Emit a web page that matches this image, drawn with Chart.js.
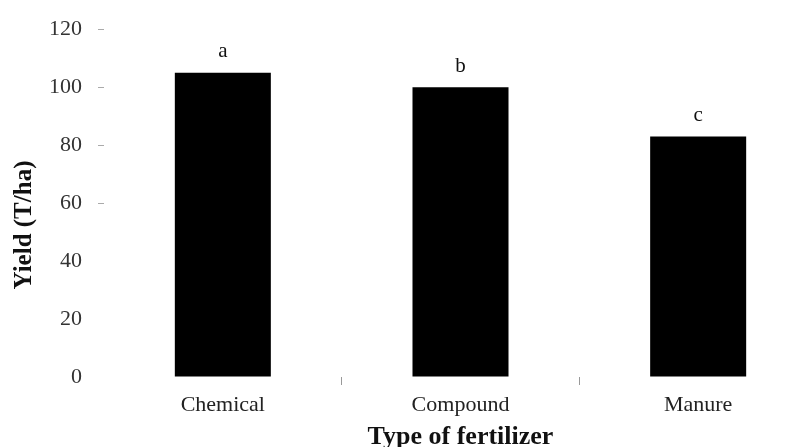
<!DOCTYPE html>
<html>
<head>
<meta charset="utf-8">
<script src="https://cdn.jsdelivr.net/npm/chart.js@4"></script>
<style>
  html, body { margin: 0; padding: 0; background: #fff; overflow: hidden; }
</style>
</head>
<body>
<canvas id="yieldChart" width="817" height="447"></canvas>
<script>
// Chart data
const categories = ['Chemical', 'Compound', 'Manure'];
const yieldValues = [105, 100, 83];
const groupLetters = ['a', 'b', 'c'];
const yMin = 0;
const yMax = 120;
const yStep = 20;

const serif = "'Liberation Serif', 'Times New Roman', serif";

// Draws the significance letters above bars and the y axis title
const annotationPlugin = {
    id: 'annotations',
    afterDatasetsDraw(chart) {
        const ctx = chart.ctx;
        const meta = chart.getDatasetMeta(0);
        ctx.save();
        ctx.fillStyle = '#111';
        ctx.font = '21px ' + serif;
        ctx.textAlign = 'center';
        ctx.textBaseline = 'middle';
        meta.data.forEach((bar, i) => {
            ctx.fillText(groupLetters[i], bar.x, bar.y - 21);
        });

        // y axis title
        ctx.translate(25, 225);
        ctx.rotate(-Math.PI / 2);
        ctx.font = 'bold 25px ' + serif;
        ctx.fillText('Yield (T/ha)', 0, 0);
        ctx.restore();
    }
};

function renderChart() {
    const ctx = document.getElementById('yieldChart').getContext('2d');
    new Chart(ctx, {
        type: 'bar',
        data: {
            labels: categories,
            datasets: [{
                data: yieldValues,
                backgroundColor: '#000',
                borderWidth: 0,
                barPercentage: 0.404,
                categoryPercentage: 1
            }]
        },
        options: {
            responsive: false,
            animation: false,
            layout: { padding: { top: 27, right: 0, bottom: 0, left: 0 } },
            plugins: {
                legend: { display: false },
                tooltip: { enabled: false }
            },
            scales: {
                x: {
                    border: { display: false },
                    grid: {
                        drawOnChartArea: false,
                        tickLength: 8,
                        color: ctx => (ctx.index === 0 || ctx.index === categories.length) ? 'rgba(0,0,0,0)' : '#999'
                    },
                    ticks: {
                        color: '#222',
                        font: { family: serif, size: 22 },
                        padding: 7
                    },
                    title: {
                        display: true,
                        text: 'Type of fertilizer',
                        color: '#111',
                        font: { family: serif, size: 26, weight: 'bold', lineHeight: 1 },
                        padding: { top: 0, bottom: -3 }
                    },
                    afterFit(scale) { scale.height = 70; }
                },
                y: {
                    min: yMin,
                    max: yMax,
                    border: { display: false },
                    grid: {
                        drawOnChartArea: false,
                        tickLength: 6,
                        // the lower tick marks are not visible in the original
                        color: ctx => (ctx.tick && ctx.tick.value >= 60) ? '#aaa' : 'rgba(0,0,0,0)'
                    },
                    ticks: {
                        stepSize: yStep,
                        color: '#333',
                        font: { family: serif, size: 22 },
                        padding: 16
                    },
                    afterFit(scale) { scale.width = 104; }
                }
            }
        },
        plugins: [annotationPlugin]
    });
}

renderChart();
</script>
</body>
</html>
